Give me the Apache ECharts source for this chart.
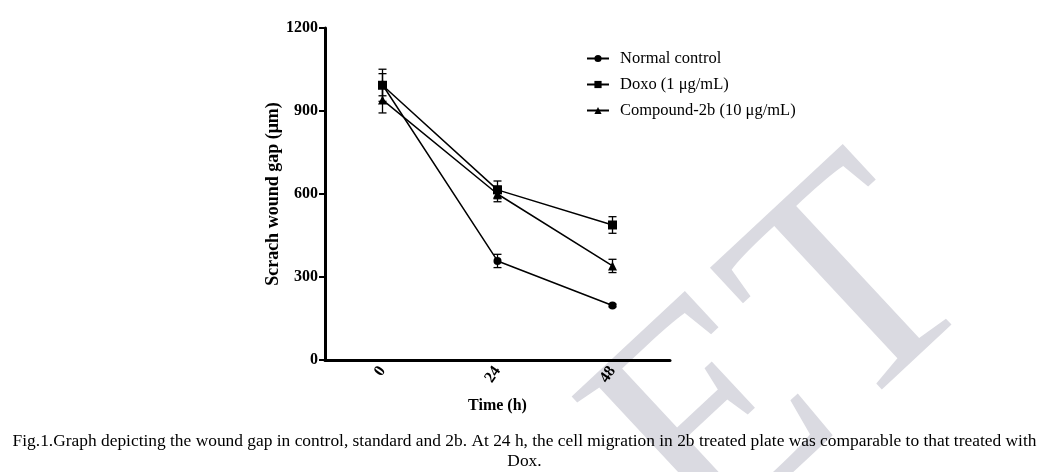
<!DOCTYPE html>
<html>
<head>
<meta charset="utf-8">
<script src="https://cdn.jsdelivr.net/npm/echarts@6/dist/echarts.min.js"></script>
<style>
html,body{margin:0;padding:0;background:#fff;}
#c{width:1041px;height:472px;}
</style>
</head>
<body>
<div id="c"></div>
<script>
var categories = ['0', '24', '48'];
var seriesNames = ['Normal control', 'Doxo (1 μg/mL)', 'Compound-2b (10 μg/mL)'];
var normalMean = [995, 358, 197];
var normalErr = [40, 24, 5];
var doxoMean = [993, 615, 488];
var doxoErr = [58, 32, 30];
var compMean = [940, 600, 340];
var compErr = [47, 28, 24];
var yTicks = [0, 300, 600, 900, 1200];
var captionLine1 = 'Fig.1.Graph depicting the wound gap in control, standard and 2b. At 24 h, the cell migration in 2b treated plate was comparable to that treated with';
var captionLine2 = 'Dox.';

var FONT = '"Liberation Serif", "Times New Roman", serif';
var chart = echarts.init(document.getElementById('c'));

function errSeries(mean, err, z) {
  var data = mean.map(function (m, i) { return [i, m - err[i], m + err[i]]; });
  return {
    type: 'custom',
    z: z,
    silent: true,
    data: data,
    renderItem: function (params, api) {
      var x = api.value(0);
      var lo = api.coord([x, api.value(1)]);
      var hi = api.coord([x, api.value(2)]);
      var w = 4;
      var st = { stroke: '#000', lineWidth: 1.3 };
      return {
        type: 'group',
        children: [
          { type: 'line', shape: { x1: lo[0], y1: lo[1], x2: hi[0], y2: hi[1] }, style: st },
          { type: 'line', shape: { x1: lo[0] - w, y1: lo[1], x2: lo[0] + w, y2: lo[1] }, style: st },
          { type: 'line', shape: { x1: hi[0] - w, y1: hi[1], x2: hi[0] + w, y2: hi[1] }, style: st }
        ]
      };
    }
  };
}

function lineSeries(name, mean, symbol, size) {
  return {
    name: name,
    type: 'line',
    data: mean,
    symbol: symbol,
    symbolSize: size,
    z: 5,
    lineStyle: { color: '#000', width: 1.5 },
    itemStyle: { color: '#000' },
    emphasis: { disabled: true }
  };
}

chart.setOption({
  animation: false,
  backgroundColor: '#fff',
  graphic: [{
    type: 'text',
    z: -10,
    x: 790,
    y: 362,
    rotation: 0.75,
    style: {
      text: 'ET',
      fontFamily: FONT,
      fontSize: 315,
      fill: '#dadae1',
      align: 'center',
      verticalAlign: 'middle'
    }
  }, {
    type: 'text',
    z: 10,
    x: 524.5,
    y: 441,
    style: { text: captionLine1, fontFamily: FONT, fontSize: 17.4, fill: '#000', align: 'center', verticalAlign: 'middle' }
  }, {
    type: 'text',
    z: 10,
    x: 524.5,
    y: 461,
    style: { text: captionLine2, fontFamily: FONT, fontSize: 17.4, fill: '#000', align: 'center', verticalAlign: 'middle' }
  }],
  legend: {
    orient: 'vertical',
    left: 581,
    top: 45,
    itemWidth: 22,
    itemHeight: 9,
    itemGap: 9,
    data: seriesNames,
    textStyle: { fontFamily: FONT, fontSize: 16.5, color: '#000', padding: [0, 0, 0, 6] }
  },
  grid: { left: 325, right: 371, top: 28, bottom: 112 },
  xAxis: {
    type: 'category',
    data: categories,
    boundaryGap: true,
    name: 'Time (h)',
    nameLocation: 'middle',
    nameGap: 38,
    nameTextStyle: { fontFamily: FONT, fontSize: 16, fontWeight: 'bold', color: '#000' },
    axisLine: { lineStyle: { color: '#000', width: 3 } },
    axisTick: { alignWithLabel: true, length: 5, lineStyle: { color: '#000', width: 2 } },
    axisLabel: { rotate: 55, margin: 8, fontFamily: FONT, fontSize: 16, fontWeight: 'bold', color: '#000' },
    splitLine: { show: false }
  },
  yAxis: {
    type: 'value',
    min: 0,
    max: 1200,
    interval: 300,
    name: 'Scrach wound gap (μm)',
    nameLocation: 'middle',
    nameGap: 43,
    nameTextStyle: { fontFamily: FONT, fontSize: 18, fontWeight: 'bold', color: '#000' },
    axisLine: { show: true, lineStyle: { color: '#000', width: 3 } },
    axisTick: { show: true, length: 6, lineStyle: { color: '#000', width: 2 } },
    axisLabel: {
      margin: 7, fontFamily: FONT, fontSize: 16, fontWeight: 'bold', color: '#000',
      formatter: function (v) { return yTicks.indexOf(v) >= 0 ? String(v) : ''; }
    },
    splitLine: { show: false }
  },
  series: [
    errSeries(normalMean, normalErr, 3),
    errSeries(doxoMean, doxoErr, 3),
    errSeries(compMean, compErr, 3),
    lineSeries(seriesNames[0], normalMean, 'circle', 8),
    lineSeries(seriesNames[1], doxoMean, 'rect', 9),
    lineSeries(seriesNames[2], compMean, 'triangle', 9)
  ]
});
</script>
</body>
</html>
